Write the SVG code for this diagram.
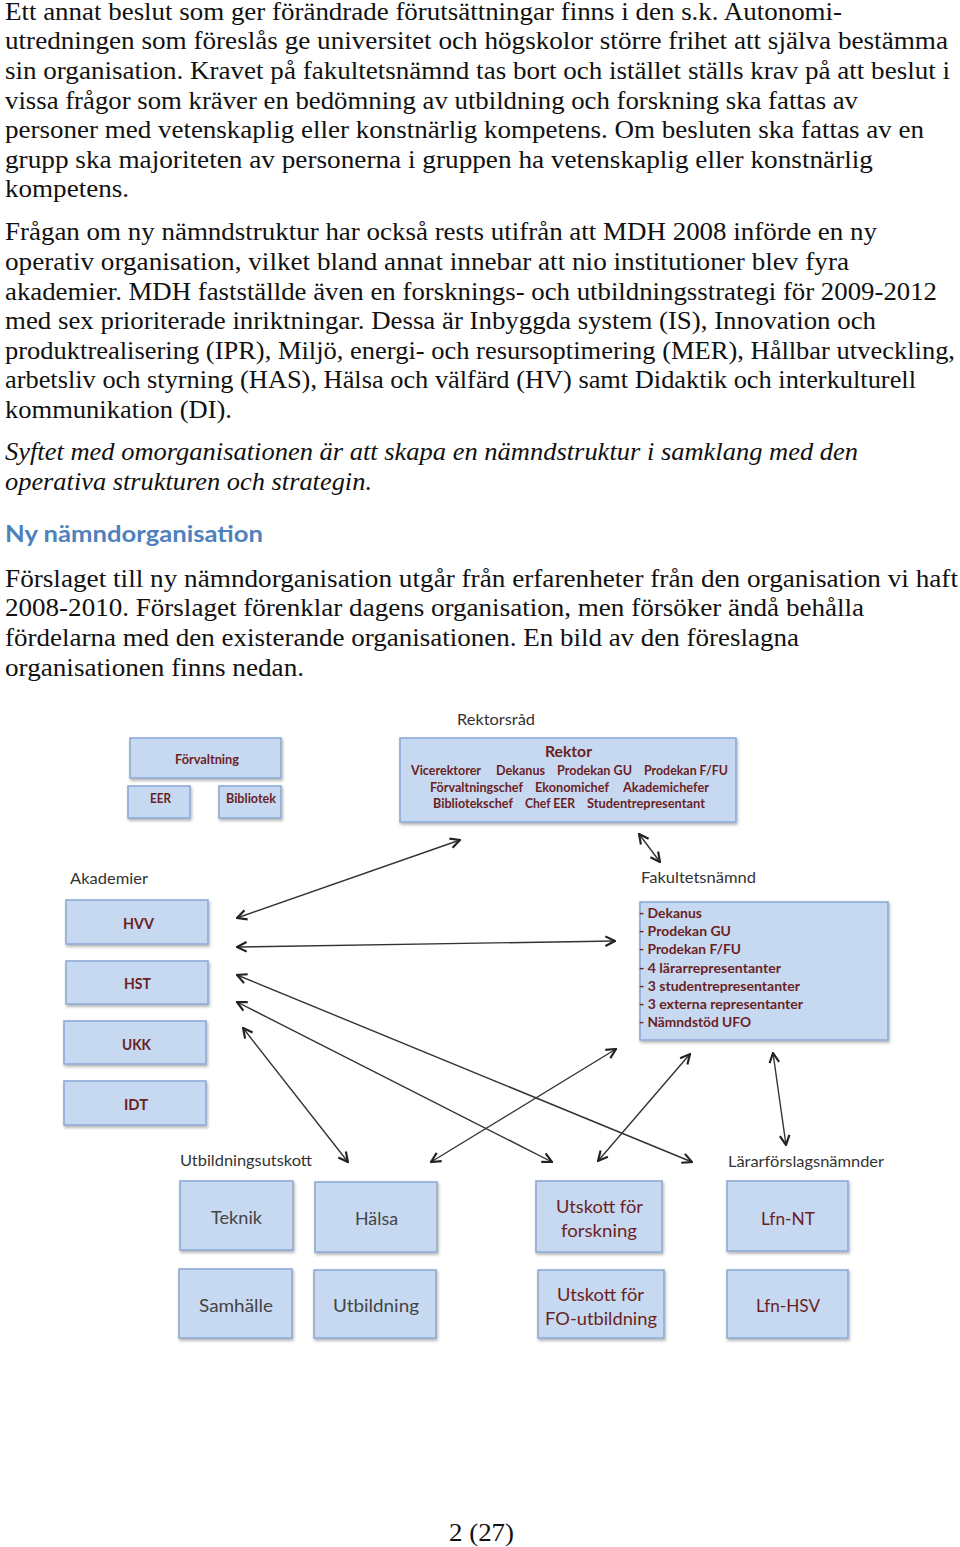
<svg xmlns="http://www.w3.org/2000/svg" width="960" height="1547" viewBox="0 0 960 1547">
<style>
.body{font-family:"Liberation Serif",serif;font-size:25px;fill:#111}
.it{font-style:italic}
.h{font-family:Lato,"Liberation Sans",sans-serif;font-size:23px;font-weight:bold;fill:#4f81bd}
.lbl{font-family:Lato,"Liberation Sans",sans-serif;font-size:15px;fill:#333}
.box{fill:#c6d9f1;stroke:#8eaad6;stroke-width:1.6;filter:url(#sh)}
.bt{font-family:Lato,"Liberation Sans",sans-serif;font-weight:bold;fill:#6b1f24}
.rt{font-family:Lato,"Liberation Sans",sans-serif;font-size:18px;fill:#6b1f24}
.gt{font-family:Lato,"Liberation Sans",sans-serif;font-size:18px;fill:#444}
.c{stroke:#333;stroke-width:1.4;fill:none;marker-start:url(#ah);marker-end:url(#ah)}
</style>
<defs>
<filter id="sh" x="-10%" y="-10%" width="130%" height="140%">
<feDropShadow dx="1" dy="2" stdDeviation="1.5" flood-color="#000" flood-opacity="0.3"/>
</filter>
<marker id="ah" viewBox="0 0 10 10" refX="9" refY="5" markerWidth="12" markerHeight="12" markerUnits="userSpaceOnUse" orient="auto-start-reverse">
<path d="M1,1 L9,5 L1,9" fill="none" stroke="#222" stroke-width="1.8"/>
</marker>
</defs>
<rect width="960" height="1547" fill="#fff"/>
<g id="text">
<text class="body" x="5" y="20" textLength="837" lengthAdjust="spacingAndGlyphs">Ett annat beslut som ger förändrade förutsättningar finns i den s.k. Autonomi-</text>
<text class="body" x="5" y="49" textLength="943" lengthAdjust="spacingAndGlyphs">utredningen som föreslås ge universitet och högskolor större frihet att själva bestämma</text>
<text class="body" x="5" y="79" textLength="945" lengthAdjust="spacingAndGlyphs">sin organisation. Kravet på fakultetsnämnd tas bort och istället ställs krav på att beslut i</text>
<text class="body" x="5" y="109" textLength="853" lengthAdjust="spacingAndGlyphs">vissa frågor som kräver en bedömning av utbildning och forskning ska fattas av</text>
<text class="body" x="5" y="138" textLength="919" lengthAdjust="spacingAndGlyphs">personer med vetenskaplig eller konstnärlig kompetens. Om besluten ska fattas av en</text>
<text class="body" x="5" y="168" textLength="868" lengthAdjust="spacingAndGlyphs">grupp ska majoriteten av personerna i gruppen ha vetenskaplig eller konstnärlig</text>
<text class="body" x="5" y="197" textLength="124" lengthAdjust="spacingAndGlyphs">kompetens.</text>
<text class="body" x="5" y="240" textLength="872" lengthAdjust="spacingAndGlyphs">Frågan om ny nämndstruktur har också rests utifrån att MDH 2008 införde en ny</text>
<text class="body" x="5" y="270" textLength="844" lengthAdjust="spacingAndGlyphs">operativ organisation, vilket bland annat innebar att nio institutioner blev fyra</text>
<text class="body" x="5" y="300" textLength="932" lengthAdjust="spacingAndGlyphs">akademier. MDH fastställde även en forsknings- och utbildningsstrategi för 2009-2012</text>
<text class="body" x="5" y="329" textLength="871" lengthAdjust="spacingAndGlyphs">med sex prioriterade inriktningar. Dessa är Inbyggda system (IS), Innovation och</text>
<text class="body" x="5" y="359" textLength="950" lengthAdjust="spacingAndGlyphs">produktrealisering (IPR), Miljö, energi- och resursoptimering (MER), Hållbar utveckling,</text>
<text class="body" x="5" y="388" textLength="911" lengthAdjust="spacingAndGlyphs">arbetsliv och styrning (HAS), Hälsa och välfärd (HV) samt Didaktik och interkulturell</text>
<text class="body" x="5" y="418" textLength="227" lengthAdjust="spacingAndGlyphs">kommunikation (DI).</text>
<text class="body it" x="5" y="460" textLength="853" lengthAdjust="spacingAndGlyphs">Syftet med omorganisationen är att skapa en nämndstruktur i samklang med den</text>
<text class="body it" x="5" y="490" textLength="367" lengthAdjust="spacingAndGlyphs">operativa strukturen och strategin.</text>
<text class="h" x="5" y="542" textLength="258" lengthAdjust="spacingAndGlyphs">Ny nämndorganisation</text>
<text class="body" x="5" y="587" textLength="953" lengthAdjust="spacingAndGlyphs">Förslaget till ny nämndorganisation utgår från erfarenheter från den organisation vi haft</text>
<text class="body" x="5" y="616" textLength="859" lengthAdjust="spacingAndGlyphs">2008-2010. Förslaget förenklar dagens organisation, men försöker ändå behålla</text>
<text class="body" x="5" y="646" textLength="794" lengthAdjust="spacingAndGlyphs">fördelarna med den existerande organisationen. En bild av den föreslagna</text>
<text class="body" x="5" y="676" textLength="299" lengthAdjust="spacingAndGlyphs">organisationen finns nedan.</text>
<text class="body" x="449" y="1541" textLength="65" lengthAdjust="spacingAndGlyphs">2 (27)</text>
</g>
<g id="labels">
<text class="lbl" x="457" y="725" textLength="78" lengthAdjust="spacingAndGlyphs">Rektorsråd</text>
<text class="lbl" x="70" y="884" textLength="78" lengthAdjust="spacingAndGlyphs">Akademier</text>
<text class="lbl" x="641" y="883" textLength="115" lengthAdjust="spacingAndGlyphs">Fakultetsnämnd</text>
<text class="lbl" x="180" y="1166" textLength="132" lengthAdjust="spacingAndGlyphs">Utbildningsutskott</text>
<text class="lbl" x="728" y="1167" textLength="156" lengthAdjust="spacingAndGlyphs">Lärarförslagsnämnder</text>
</g>
<g id="forvaltning">
<rect class="box" x="130" y="738" width="151" height="40"/>
<text class="bt" x="175" y="764" font-size="13" textLength="64" lengthAdjust="spacingAndGlyphs">Förvaltning</text>
</g>
<g id="eer">
<rect class="box" x="128" y="786" width="62" height="32"/>
<text class="bt" x="150" y="803" font-size="13" textLength="21" lengthAdjust="spacingAndGlyphs">EER</text>
</g>
<g id="bibliotek">
<rect class="box" x="219" y="786" width="62" height="32"/>
<text class="bt" x="226" y="803" font-size="13" textLength="50" lengthAdjust="spacingAndGlyphs">Bibliotek</text>
</g>
<g id="rektor">
<rect class="box" x="400" y="738" width="336" height="84"/>
<text class="bt" x="545" y="757" font-size="16" textLength="47" lengthAdjust="spacingAndGlyphs">Rektor</text>
<g font-size="12.5">
<text class="bt" x="411" y="775" textLength="70" lengthAdjust="spacingAndGlyphs">Vicerektorer</text>
<text class="bt" x="496" y="775" textLength="49" lengthAdjust="spacingAndGlyphs">Dekanus</text>
<text class="bt" x="557" y="775" textLength="75" lengthAdjust="spacingAndGlyphs">Prodekan GU</text>
<text class="bt" x="644" y="775" textLength="84" lengthAdjust="spacingAndGlyphs">Prodekan F/FU</text>
<text class="bt" x="430" y="792" textLength="93" lengthAdjust="spacingAndGlyphs">Förvaltningschef</text>
<text class="bt" x="535" y="792" textLength="74" lengthAdjust="spacingAndGlyphs">Ekonomichef</text>
<text class="bt" x="623" y="792" textLength="86" lengthAdjust="spacingAndGlyphs">Akademichefer</text>
<text class="bt" x="433" y="808" textLength="80" lengthAdjust="spacingAndGlyphs">Bibliotekschef</text>
<text class="bt" x="525" y="808" textLength="50" lengthAdjust="spacingAndGlyphs">Chef EER</text>
<text class="bt" x="587" y="808" textLength="118" lengthAdjust="spacingAndGlyphs">Studentrepresentant</text>
</g>
</g>
<g id="hvv">
<rect class="box" x="66" y="900" width="142" height="44"/>
<text class="bt" x="123" y="929" font-size="15" textLength="31" lengthAdjust="spacingAndGlyphs">HVV</text>
</g>
<g id="hst">
<rect class="box" x="66" y="961" width="142" height="43"/>
<text class="bt" x="124" y="989" font-size="15" textLength="27" lengthAdjust="spacingAndGlyphs">HST</text>
</g>
<g id="ukk">
<rect class="box" x="64" y="1021" width="142" height="43"/>
<text class="bt" x="122" y="1050" font-size="15" textLength="29" lengthAdjust="spacingAndGlyphs">UKK</text>
</g>
<g id="idt">
<rect class="box" x="64" y="1081" width="142" height="44"/>
<text class="bt" x="124" y="1110" font-size="15" textLength="24" lengthAdjust="spacingAndGlyphs">IDT</text>
</g>
<g id="fakultetsnamnd">
<rect class="box" x="640" y="902" width="248" height="138"/>
<g font-size="13">
<text class="bt" x="639" y="918" textLength="63" lengthAdjust="spacingAndGlyphs">- Dekanus</text>
<text class="bt" x="639" y="936" textLength="92" lengthAdjust="spacingAndGlyphs">- Prodekan GU</text>
<text class="bt" x="639" y="954" textLength="102" lengthAdjust="spacingAndGlyphs">- Prodekan F/FU</text>
<text class="bt" x="639" y="973" textLength="142" lengthAdjust="spacingAndGlyphs">- 4 lärarrepresentanter</text>
<text class="bt" x="639" y="991" textLength="161" lengthAdjust="spacingAndGlyphs">- 3 studentrepresentanter</text>
<text class="bt" x="639" y="1009" textLength="164" lengthAdjust="spacingAndGlyphs">- 3 externa representanter</text>
<text class="bt" x="639" y="1027" textLength="112" lengthAdjust="spacingAndGlyphs">- Nämndstöd UFO</text>
</g>
</g>
<g id="teknik">
<rect class="box" x="180" y="1181" width="113" height="69"/>
<text class="gt" x="211" y="1224" textLength="51" lengthAdjust="spacingAndGlyphs">Teknik</text>
</g>
<g id="halsa">
<rect class="box" x="315" y="1182" width="122" height="70"/>
<text class="gt" x="355" y="1225" textLength="43" lengthAdjust="spacingAndGlyphs">Hälsa</text>
</g>
<g id="samhalle">
<rect class="box" x="179" y="1269" width="113" height="69"/>
<text class="gt" x="199" y="1312" textLength="74" lengthAdjust="spacingAndGlyphs">Samhälle</text>
</g>
<g id="utbildning">
<rect class="box" x="314" y="1270" width="122" height="68"/>
<text class="gt" x="333" y="1312" textLength="86" lengthAdjust="spacingAndGlyphs">Utbildning</text>
</g>
<g id="utskott-forskning">
<rect class="box" x="536" y="1181" width="126" height="71"/>
<text class="rt" x="556" y="1213" textLength="87" lengthAdjust="spacingAndGlyphs">Utskott för</text>
<text class="rt" x="561" y="1237" textLength="76" lengthAdjust="spacingAndGlyphs">forskning</text>
</g>
<g id="utskott-fo">
<rect class="box" x="538" y="1270" width="126" height="68"/>
<text class="rt" x="557" y="1301" textLength="87" lengthAdjust="spacingAndGlyphs">Utskott för</text>
<text class="rt" x="545" y="1325" textLength="112" lengthAdjust="spacingAndGlyphs">FO-utbildning</text>
</g>
<g id="lfn-nt">
<rect class="box" x="727" y="1181" width="121" height="70"/>
<text class="rt" x="761" y="1225" textLength="54" lengthAdjust="spacingAndGlyphs">Lfn-NT</text>
</g>
<g id="lfn-hsv">
<rect class="box" x="727" y="1270" width="121" height="68"/>
<text class="rt" x="756" y="1312" textLength="64" lengthAdjust="spacingAndGlyphs">Lfn-HSV</text>
</g>
<g id="connectors">
<line class="c" x1="237" y1="918" x2="460" y2="840"/>
<line class="c" x1="237" y1="947" x2="615" y2="941"/>
<line class="c" x1="237" y1="975" x2="692" y2="1162"/>
<line class="c" x1="237" y1="1002" x2="552" y2="1162"/>
<line class="c" x1="243" y1="1028" x2="348" y2="1162"/>
<line class="c" x1="616" y1="1049" x2="431" y2="1162"/>
<line class="c" x1="690" y1="1054" x2="598" y2="1161"/>
<line class="c" x1="639" y1="834" x2="660" y2="862"/>
<line class="c" x1="773" y1="1053" x2="786" y2="1145"/>
</g>
</svg>
